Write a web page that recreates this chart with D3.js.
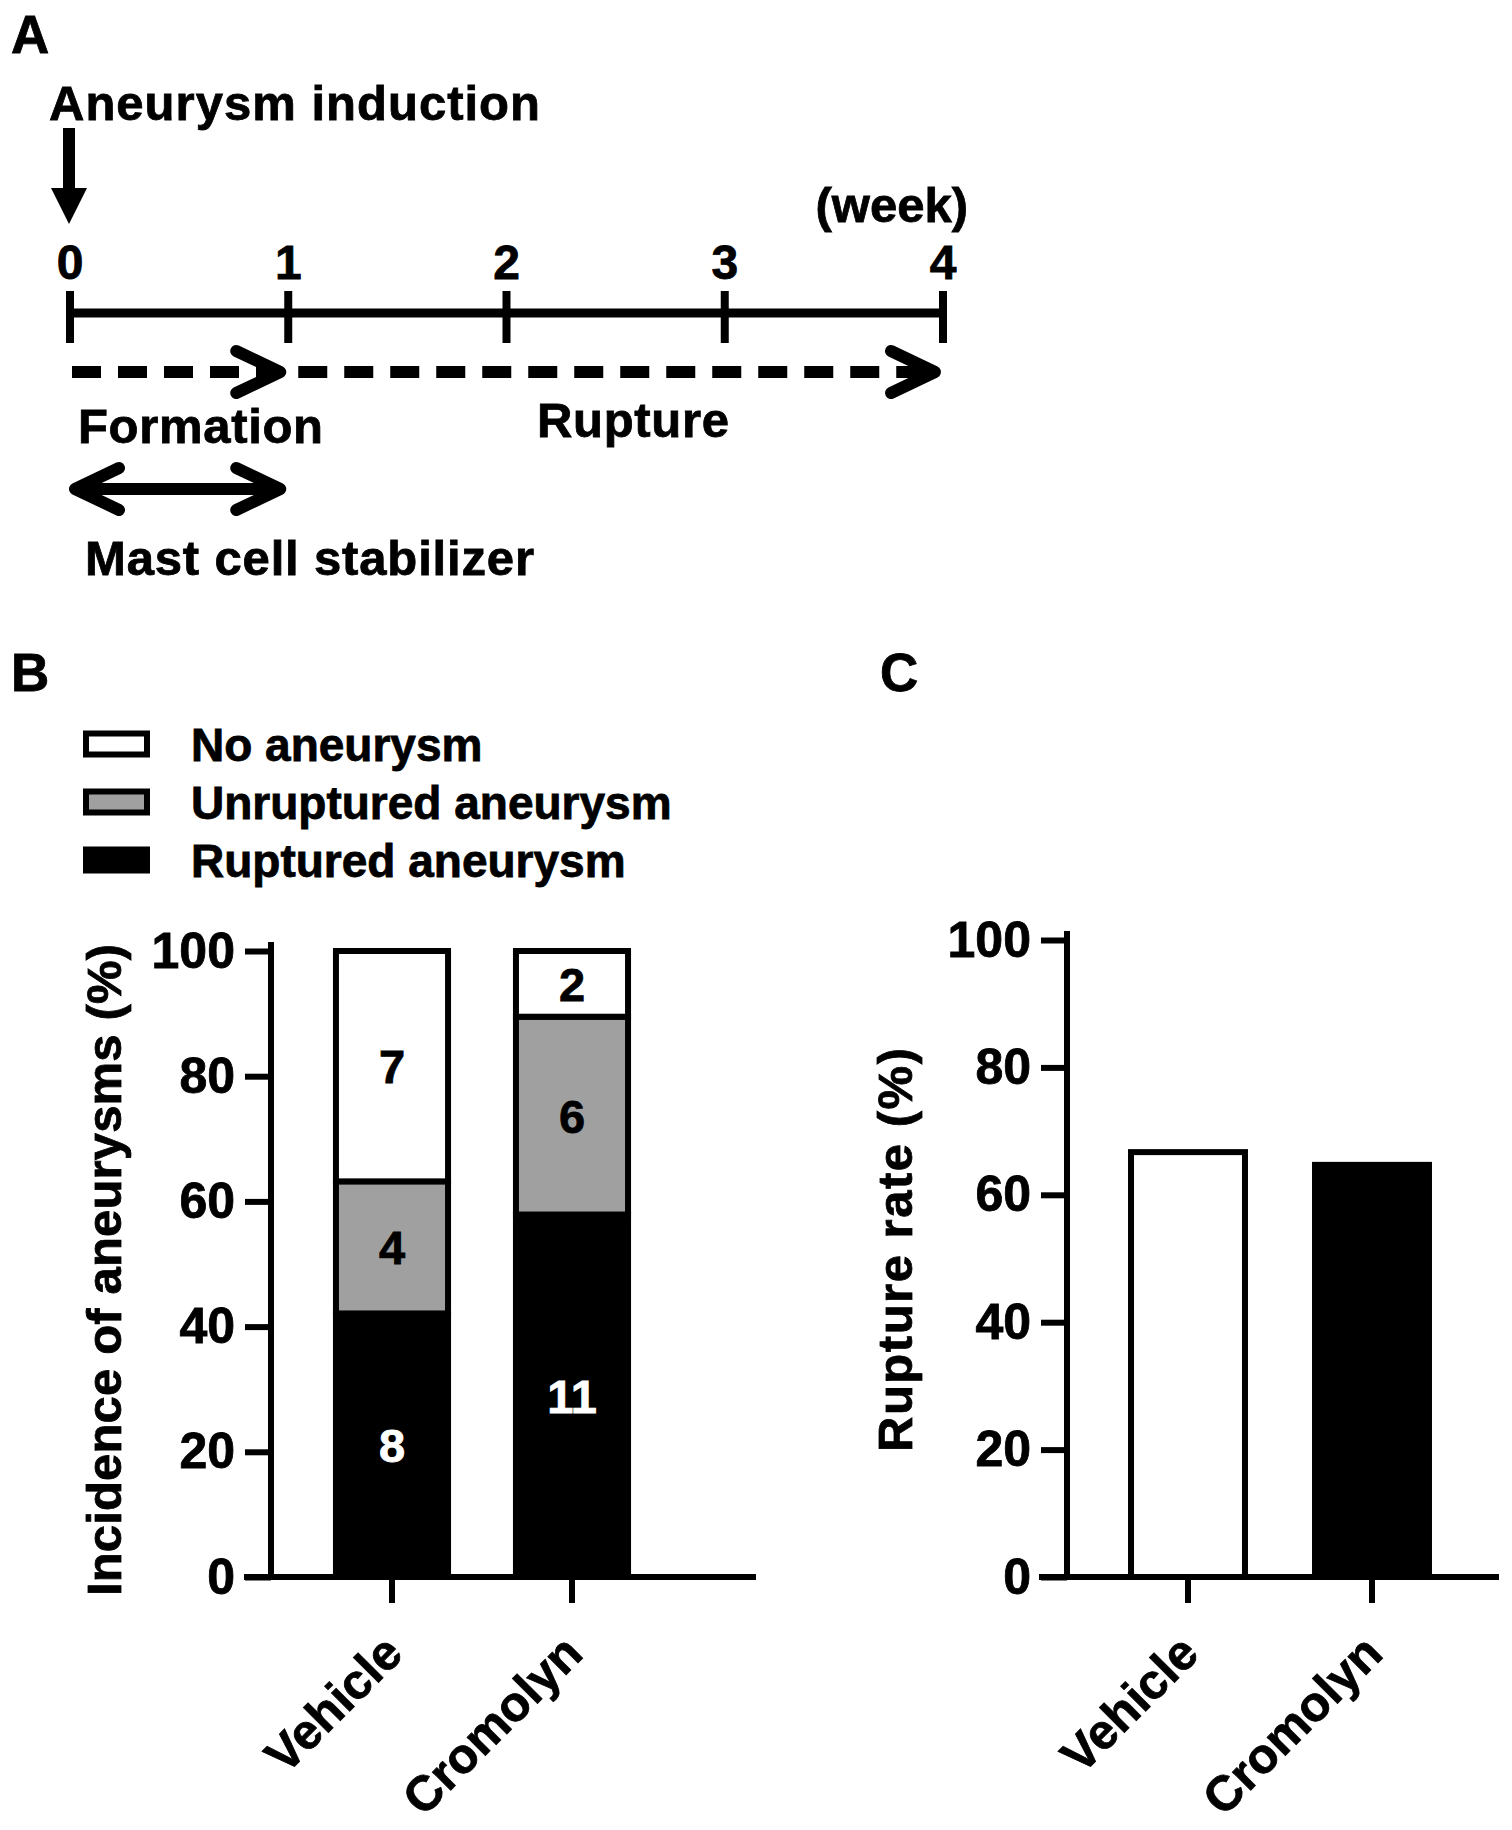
<!DOCTYPE html>
<html>
<head>
<meta charset="utf-8">
<script src="https://cdn.jsdelivr.net/npm/d3@7"></script>
<style>
  body { margin: 0; background: #fff; }
  svg text {
    font-family: "Liberation Sans", Arial, Helvetica, sans-serif;
    font-weight: bold;
    fill: #000;
    stroke: #000;
    stroke-width: 0.8px;
  }
</style>
</head>
<body>
<div id="figure"></div>
<script>
// --- data ---
// panel A: protocol timeline
const weeks = [0, 1, 2, 3, 4]
const phaseLabels = ["Formation", "Rupture"]
const phaseStart = [0, 1]
const phaseEnd = [1, 4]
const treatmentSpan = [0, 1]

// panel B: incidence (%) with animal counts
const groups = ["Vehicle", "Cromolyn"]
const outcomes = ["No aneurysm", "Unruptured aneurysm", "Ruptured aneurysm"]
const rupturedPct = [42.1, 57.9]
const unrupturedPct = [21.1, 31.6]
const noAneurysmPct = [36.8, 10.5]
const rupturedN = [8, 11]
const unrupturedN = [4, 6]
const noAneurysmN = [7, 2]

// panel C: rupture rate (%)
const ruptureRate = [66.7, 64.7]

const yTicks = [0, 20, 40, 60, 80, 100]

function drawFigure() {

// 1. canvas
  const width = 1512
  const height = 1830
  const stroke = 6
  const outcomeColor = {
    "No aneurysm": "#ffffff",
    "Unruptured aneurysm": "#a0a0a0",
    "Ruptured aneurysm": "#000000",
  }
  const barColor = ["#ffffff", "#000000"]

  const svg = d3.select("#figure")
    .append("svg")
      .attr("width", width)
      .attr("height", height)

  const addText = (g, str, x, y, size, anchor = "start") => g.append("text")
      .attr("x", x)
      .attr("y", y)
      .attr("font-size", size)
      .attr("text-anchor", anchor)
      .text(str)

  // panel letters
  addText(svg, "A", 11, 53, 53).attr("textLength", 40)
  addText(svg, "B", 11, 691, 53).attr("textLength", 40)
  addText(svg, "C", 880, 691, 53).attr("textLength", 42)

// 2. panel A - timeline
  const a = svg.append("g")
  const xWeek = d3.scaleLinear()
    .domain(d3.extent(weeks))
    .range([70, 943])
  const lineY = 313

  a.append("line")
    .attr("x1", xWeek(0))
    .attr("x2", xWeek(4))
    .attr("y1", lineY)
    .attr("y2", lineY)
    .attr("stroke", "#000")
    .attr("stroke-width", 9)

  a.selectAll(".week-tick")
    .data(weeks)
    .join("line")
      .attr("class", "week-tick")
      .attr("x1", d => xWeek(d))
      .attr("x2", d => xWeek(d))
      .attr("y1", lineY - 22)
      .attr("y2", lineY + 30)
      .attr("stroke", "#000")
      .attr("stroke-width", 8)

  a.selectAll(".week-label")
    .data(weeks)
    .join("text")
      .attr("class", "week-label")
      .attr("x", d => xWeek(d))
      .attr("y", 279)
      .attr("font-size", 48)
      .attr("text-anchor", "middle")
      .text(d => d)

  addText(a, "(week)", 968, 222, 49, "end")

  // induction arrow
  const x0 = xWeek(0) - 1
  a.append("line")
    .attr("x1", x0).attr("x2", x0)
    .attr("y1", 128).attr("y2", 192)
    .attr("stroke", "#000")
    .attr("stroke-width", 12)
  a.append("path")
    .attr("d", `M${x0 - 18},188 L${x0 + 18},188 L${x0},224 Z`)
    .attr("fill", "#000")
  addText(a, "Aneurysm induction", 49, 120, 49)
    .attr("textLength", 491)

  const chevron = (tip, y, dir) =>
    `M${tip - dir * 44},${y - 21} L${tip},${y} L${tip - dir * 44},${y + 21}`

  // dashed phase arrows
  const dashY = 372
  phaseLabels.forEach((label, i) => {
    const start = xWeek(phaseStart[i]) + (i === 0 ? 2 : 10)
    const tip = xWeek(phaseEnd[i]) - 8
    a.append("line")
      .attr("x1", start)
      .attr("x2", tip - 8)
      .attr("y1", dashY)
      .attr("y2", dashY)
      .attr("stroke", "#000")
      .attr("stroke-width", 12)
      .attr("stroke-dasharray", "29 17")
    a.append("path")
      .attr("d", chevron(tip, dashY, 1))
      .attr("fill", "none")
      .attr("stroke", "#000")
      .attr("stroke-width", 12)
      .attr("stroke-linecap", "round")
      .attr("stroke-linejoin", "round")
  })
  addText(a, phaseLabels[0], 78, 443, 49).attr("textLength", 245)
  addText(a, phaseLabels[1], 537, 437, 49).attr("textLength", 192)

  // treatment double arrow
  const dblY = 489
  const t0 = xWeek(treatmentSpan[0]) + 5
  const t1 = xWeek(treatmentSpan[1]) - 8
  a.append("line")
    .attr("x1", t0 + 4).attr("x2", t1 - 4)
    .attr("y1", dblY).attr("y2", dblY)
    .attr("stroke", "#000")
    .attr("stroke-width", 12)
  a.append("path")
    .attr("d", chevron(t0, dblY, -1) + " " + chevron(t1, dblY, 1))
    .attr("fill", "none")
    .attr("stroke", "#000")
    .attr("stroke-width", 12)
    .attr("stroke-linecap", "round")
    .attr("stroke-linejoin", "round")
  addText(a, "Mast cell stabilizer", 85, 575, 49)
    .attr("textLength", 449)

// 3. panel B - legend
  const legend = svg.append("g")
  outcomes.forEach((name, i) => {
    const cy = 744 + i * 58
    legend.append("rect")
      .attr("x", 83 + stroke / 2)
      .attr("y", cy - 13.5 + stroke / 2)
      .attr("width", 67 - stroke)
      .attr("height", 27 - stroke)
      .attr("fill", outcomeColor[name])
      .attr("stroke", "#000")
      .attr("stroke-width", stroke)
    addText(legend, name, 191, cy + 17, 46)
  })

// 4. panel B - stacked bars
  const b = svg.append("g")
  const yB = d3.scaleLinear()
    .domain([0, 100])
    .range([1577, 951])
  const xB = d3.scaleBand()
    .domain(groups)
    .range([302, 662])
    .paddingInner(0.344)
    .paddingOuter(0.172)

  const rows = groups.map((g, i) => ({
    group: g,
    "Ruptured aneurysm": rupturedPct[i],
    "Unruptured aneurysm": unrupturedPct[i],
    "No aneurysm": noAneurysmPct[i],
    counts: {
      "Ruptured aneurysm": rupturedN[i],
      "Unruptured aneurysm": unrupturedN[i],
      "No aneurysm": noAneurysmN[i],
    },
  }))
  const series = d3.stack()
    .keys(["Ruptured aneurysm", "Unruptured aneurysm", "No aneurysm"])(rows)

  series.forEach(s => {
    b.selectAll(null)
      .data(s)
      .join("rect")
        .attr("x", d => xB(d.data.group) + stroke / 2)
        .attr("width", xB.bandwidth() - stroke)
        .attr("y", d => yB(d[1]))
        .attr("height", d => yB(d[0]) - yB(d[1]))
        .attr("fill", outcomeColor[s.key])
        .attr("stroke", "#000")
        .attr("stroke-width", stroke)
  })
  series.forEach(s => {
    const ink = s.key === "Ruptured aneurysm" ? "#fff" : "#000"
    b.selectAll(null)
      .data(s)
      .join("text")
        .attr("x", d => xB(d.data.group) + xB.bandwidth() / 2)
        .attr("y", d => yB((d[0] + d[1]) / 2))
        .attr("dy", "0.36em")
        .attr("font-size", 47)
        .attr("text-anchor", "middle")
        .style("fill", ink)
        .style("stroke", ink)
        .text(d => d.data.counts[s.key])
  })

// 5. panel C - rupture rate bars
  const c = svg.append("g")
  const yC = d3.scaleLinear()
    .domain([0, 100])
    .range([1577, 940])
  const xC = d3.scaleBand()
    .domain(groups)
    .range([1096, 1464])
    .paddingInner(0.348)
    .paddingOuter(0.174)

  c.selectAll("rect")
    .data(ruptureRate)
    .join("rect")
      .attr("x", (d, i) => xC(groups[i]) + stroke / 2)
      .attr("width", xC.bandwidth() - stroke)
      .attr("y", d => yC(d))
      .attr("height", d => yC(0) - yC(d))
      .attr("fill", (d, i) => barColor[i])
      .attr("stroke", "#000")
      .attr("stroke-width", stroke)

// 6. axes
  const drawAxes = (g, yScale, xScale, axisX, xLeft, xRight, labelX, labelY, title, titleLength) => {
    const yAxis = g.append("g")
      .attr("transform", `translate(${axisX},0)`)
      .call(d3.axisLeft(yScale)
        .tickValues(yTicks)
        .tickSizeInner(26)
        .tickSizeOuter(0)
        .tickPadding(10))
    yAxis.select(".domain").remove()
    yAxis.selectAll(".tick line")
      .attr("stroke", "#000")
      .attr("stroke-width", stroke)
    yAxis.selectAll(".tick text")
      .attr("font-size", 50)
      .attr("font-family", null)

    g.append("line")
      .attr("x1", axisX).attr("x2", axisX)
      .attr("y1", yScale(100) - 9)
      .attr("y2", yScale(0) + 3)
      .attr("stroke", "#000")
      .attr("stroke-width", stroke)

    const xAxis = g.append("g")
      .attr("transform", `translate(0,${yScale(0)})`)
      .call(d3.axisBottom(xScale)
        .tickSizeInner(26)
        .tickSizeOuter(0))
    xAxis.select(".domain").remove()
    xAxis.selectAll(".tick line")
      .attr("stroke", "#000")
      .attr("stroke-width", stroke)
    xAxis.selectAll(".tick text")
      .attr("x", 0)
      .attr("y", 0)
      .attr("dy", null)
      .attr("font-size", 49)
      .attr("font-family", null)
      .attr("text-anchor", "end")
      .attr("transform", "translate(13,79) rotate(-45)")

    g.append("line")
      .attr("x1", xLeft).attr("x2", xRight)
      .attr("y1", yScale(0)).attr("y2", yScale(0))
      .attr("stroke", "#000")
      .attr("stroke-width", stroke)

    g.append("text")
      .attr("transform", `translate(${labelX},${labelY}) rotate(-90)`)
      .attr("font-size", 49)
      .attr("text-anchor", "middle")
      .attr("textLength", titleLength)
      .text(title)
  }

  drawAxes(b, yB, xB, 271, 244, 756, 121, 1270, "Incidence of aneurysms (%)", 652)
  drawAxes(c, yC, xC, 1067, 1039, 1499, 912, 1250, "Rupture rate (%)", 404)
}

drawFigure()
</script>
</body>
</html>
